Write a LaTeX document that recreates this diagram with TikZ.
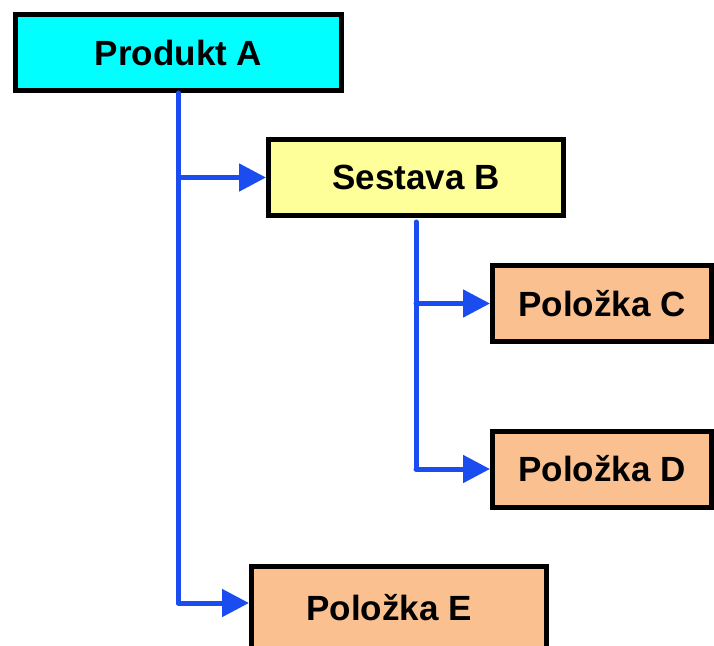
\documentclass[tikz,border=0pt]{standalone}
\usepackage{fontspec}
\setmainfont{Liberation Sans}
\usetikzlibrary{arrows.meta}
\definecolor{cyanfill}{RGB}{0,255,255}
\definecolor{yellowfill}{RGB}{255,255,153}
\definecolor{peach}{RGB}{250,192,144}
\definecolor{linkblue}{RGB}{26,76,240}
\tikzset{
  box/.style={draw=black, line width=5pt, minimum height=76pt, inner sep=0pt,
    font=\fontsize{35}{40}\selectfont\bfseries},
  link/.style={draw=linkblue, line width=5pt, line cap=round, line join=round},
  arr/.style={link, -{Triangle[length=27pt,width=27pt]}}
}
\begin{document}
\begin{tikzpicture}[x=1pt,y=-1pt]
\useasboundingbox (0,0) rectangle (714,645);
\node[box, fill=cyanfill, minimum width=326pt] (A) at (178.5,52.5) {Produkt A};
\node[box, fill=yellowfill, minimum width=295pt] (B) at (416,177.5) {Sestava B};
\node[box, fill=peach, minimum width=219pt] (C) at (602,303.5) {Položka C};
\node[box, fill=peach, minimum width=219pt] (D) at (602,469) {Položka D};
\node[box, fill=peach, minimum width=295pt, minimum height=90pt] (E) at (399,611.5) {\raisebox{8.5pt}{Položka E}\hspace*{20pt}};
\coordinate (eIn) at ([yshift=8.5pt]E.west);
\coordinate (aE) at (A.south |- eIn);
\coordinate (aB) at (A.south |- B.west);
\coordinate (bD) at (B.south |- D.west);
\coordinate (bC) at (B.south |- C.west);
\coordinate (bTop) at ([yshift=-4pt]B.south);
\draw[link] (A.south) -- (aE);
\draw[arr] (aE) -- (eIn);
\draw[arr] (aB) -- (B.west);
\draw[link] (bTop) -- (bD);
\draw[arr] (bD) -- (D.west);
\draw[arr] (bC) -- (C.west);
\end{tikzpicture}
\end{document}
